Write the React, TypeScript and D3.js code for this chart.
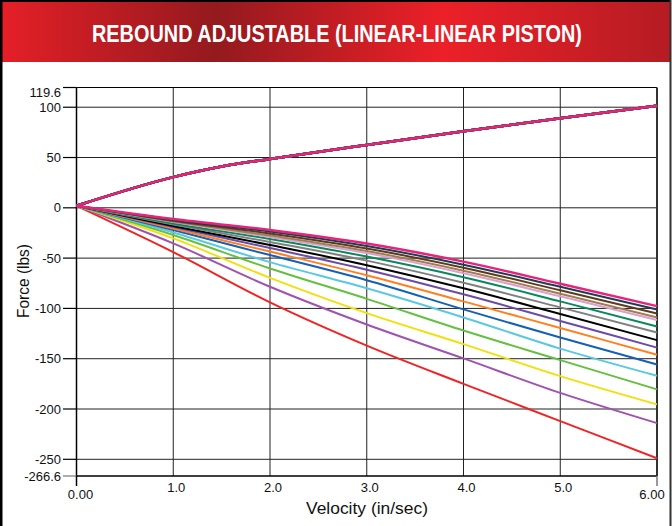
import React from "react";
import * as d3 from "d3";

// ---- data ----
const velocity = [0, 1, 2, 3, 4, 5, 6];
const xTickValues = [0, 1, 2, 3, 4, 5, 6];
const xTickLabels = ["0.00", "1.0", "2.0", "3.0", "4.0", "5.0", "6.00"];
const yTickValues = [119.6, 100, 50, 0, -50, -100, -150, -200, -250, -266.6];
const yTickLabels = ["119.6", "100", "50", "0", "-50", "-100", "-150", "-200", "-250", "-266.6"];
const yGridValues = [100, 50, 0, -50, -100, -150, -200, -250];

const compVelocity = [0, 1, 1.5, 2, 3, 4, 5, 6];
const compForce = [2, 30.5, 41, 48.5, 62.5, 76, 89, 101.5];

const setting1 = [2, -11.2, -22, -35.5, -53.5, -75.5, -97.7];
const setting2 = [2, -12, -23.5, -38, -56.5, -78.5, -101];
const setting3 = [2, -12.8, -25.5, -40.5, -59.5, -82, -105];
const setting4 = [2, -13.5, -27.5, -43, -62.5, -85.5, -109];
const setting5 = [2, -14, -29, -45, -65, -88, -111.6];
const setting6 = [2, -15.5, -31, -48.5, -69, -93, -118];
const setting7 = [2, -16.5, -34, -52.5, -74.5, -99, -124];
const setting8 = [2, -18, -37, -57, -80, -105.5, -131.5];
const setting9 = [2, -19, -40, -61.5, -86, -112.5, -139];
const setting10 = [2, -20.5, -43.5, -67, -93, -119.5, -146];
const setting11 = [2, -22, -47, -72, -101, -129, -155.7];
const setting12 = [2, -24.5, -54, -80, -109, -140, -167];
const setting13 = [2, -27, -60.3, -90.5, -122, -151.4, -180.5];
const setting14 = [2, -30.4, -69.6, -104.7, -135.5, -167.3, -195.4];
const setting15 = [2, -35.4, -78.5, -116, -149.7, -184, -214];
const setting16 = [2, -44, -94, -137, -175, -212, -249];

const settings = [
  setting1, setting2, setting3, setting4, setting5, setting6, setting7, setting8,
  setting9, setting10, setting11, setting12, setting13, setting14, setting15, setting16,
];
const colors = [
  "#e5247a", "#1f3b57", "#5c3a1a", "#a57a50", "#d6a2d6", "#08895a", "#808080", "#000000",
  "#6b4ba6", "#ff8020", "#1560b4", "#5cc8e0", "#64c040", "#f0e010", "#a052b0", "#f02424",
];

const W = 672;
const H = 526;
const FONT = "'Liberation Sans', Arial, Helvetica, sans-serif";

export default function App() {
  const x = d3.scaleLinear().domain([0, 6]).range([76.5, 657]);
  const y = d3.scaleLinear().domain([-266.6, 119.6]).range([476, 87.5]);
  const line = d3
    .line<[number, number]>()
    .x((d) => x(d[0]))
    .y((d) => y(d[1]))
    .curve(d3.curveMonotoneX);

  const order = d3.range(settings.length).reverse();

  return (
    <svg
      width={W}
      height={H}
      style={{ position: "absolute", left: 0, top: 0, background: "#fff" }}
      fontFamily={FONT}
    >
      <defs>
        <linearGradient id="hdr" x1="0" x2="1" y1="0" y2="0">
          <stop offset="0" stopColor="#e51f27" />
          <stop offset="0.32" stopColor="#931a1e" />
          <stop offset="0.66" stopColor="#ec2028" />
          <stop offset="1" stopColor="#b51c23" />
        </linearGradient>
      </defs>
      <rect x={0} y={0} width={W} height={H} fill="#fff" />
      <rect x={2} y={2} width={668} height={60} fill="url(#hdr)" />
      <text
        x={337}
        y={41.5}
        textAnchor="middle"
        fill="#fff"
        fontWeight="bold"
        fontSize={23.5}
        textLength={490}
        lengthAdjust="spacingAndGlyphs"
      >
        REBOUND ADJUSTABLE (LINEAR-LINEAR PISTON)
      </text>

      {/* outer frame */}
      <line x1={1.25} x2={1.25} y1={0} y2={H} stroke="#000" strokeWidth={2.5} />
      <line x1={0} x2={671} y1={1} y2={1} stroke="#000" strokeWidth={2} />
      <line x1={670.5} x2={670.5} y1={0} y2={H} stroke="#333" strokeWidth={2} />

      {/* grid */}
      {yGridValues.map((v) => (
        <line key={"gy" + v} x1={x(0)} x2={x(6)} y1={y(v)} y2={y(v)} stroke="#222" strokeWidth={1} />
      ))}
      {[1, 2, 3, 4, 5].map((v) => (
        <line key={"gx" + v} x1={x(v)} x2={x(v)} y1={y(119.6)} y2={y(-266.6)} stroke="#222" strokeWidth={1} />
      ))}

      {/* frame of plot */}
      <line x1={x(0)} x2={x(6)} y1={y(119.6)} y2={y(119.6)} stroke="#000" strokeWidth={1.2} />
      <line x1={x(0)} x2={x(6)} y1={y(-266.6)} y2={y(-266.6)} stroke="#000" strokeWidth={1.5} />
      <line x1={x(0)} x2={x(0)} y1={y(119.6)} y2={y(-266.6)} stroke="#000" strokeWidth={1.5} />
      <line x1={x(6)} x2={x(6)} y1={y(119.6)} y2={y(-266.6)} stroke="#333" strokeWidth={2} />

      {/* series */}
      {order.map((i) => (
        <path
          key={"c" + i}
          d={line(compVelocity.map((v, k) => [v, compForce[k]]) as [number, number][]) || ""}
          fill="none"
          stroke={colors[i]}
          strokeWidth={2.5}
        />
      ))}
      {order.map((i) => (
        <path
          key={"s" + i}
          d={line(velocity.map((v, k) => [v, settings[i][k]]) as [number, number][]) || ""}
          fill="none"
          stroke={colors[i]}
          strokeWidth={i === 0 ? 2.5 : 2}
        />
      ))}

      {/* y axis ticks */}
      {yTickValues.map((v, i) => {
        const ly = v === 119.6 ? y(v) + 5 : y(v);
        return (
          <g key={"yt" + v}>
            <line
              x1={63}
              x2={x(0)}
              y1={y(v)}
              y2={y(v)}
              stroke={v === -266.6 ? "#777" : "#000"}
              strokeWidth={1.2}
            />
            <text x={61} y={ly} dy="0.35em" textAnchor="end" fontSize={13} fill="#111">
              {yTickLabels[i]}
            </text>
          </g>
        );
      })}

      {/* x axis ticks */}
      {xTickValues.map((v, i) => {
        const isEnd = i === 0 || i === xTickValues.length - 1;
        const lx = i === 0 ? x(v) + 4 : i === xTickValues.length - 1 ? x(v) - 5 : x(v) + 3;
        return (
          <g key={"xt" + v}>
            {isEnd && (
              <line
                x1={x(v)}
                x2={x(v)}
                y1={y(-266.6)}
                y2={486}
                stroke={i === 0 ? "#000" : "#777"}
                strokeWidth={1.5}
              />
            )}
            <text x={lx} y={isEnd ? 498.5 : 491.5} textAnchor="middle" fontSize={13} fill="#111">
              {xTickLabels[i]}
            </text>
          </g>
        );
      })}

      {/* axis titles */}
      <text x={367} y={514} textAnchor="middle" fontSize={17} fill="#111" textLength={122} lengthAdjust="spacingAndGlyphs">
        Velocity (in/sec)
      </text>
      <text
        transform={`translate(29,281) rotate(-90)`}
        textAnchor="middle"
        fontSize={17}
        fill="#111"
        textLength={74}
        lengthAdjust="spacingAndGlyphs"
      >
        Force (lbs)
      </text>
    </svg>
  );
}
